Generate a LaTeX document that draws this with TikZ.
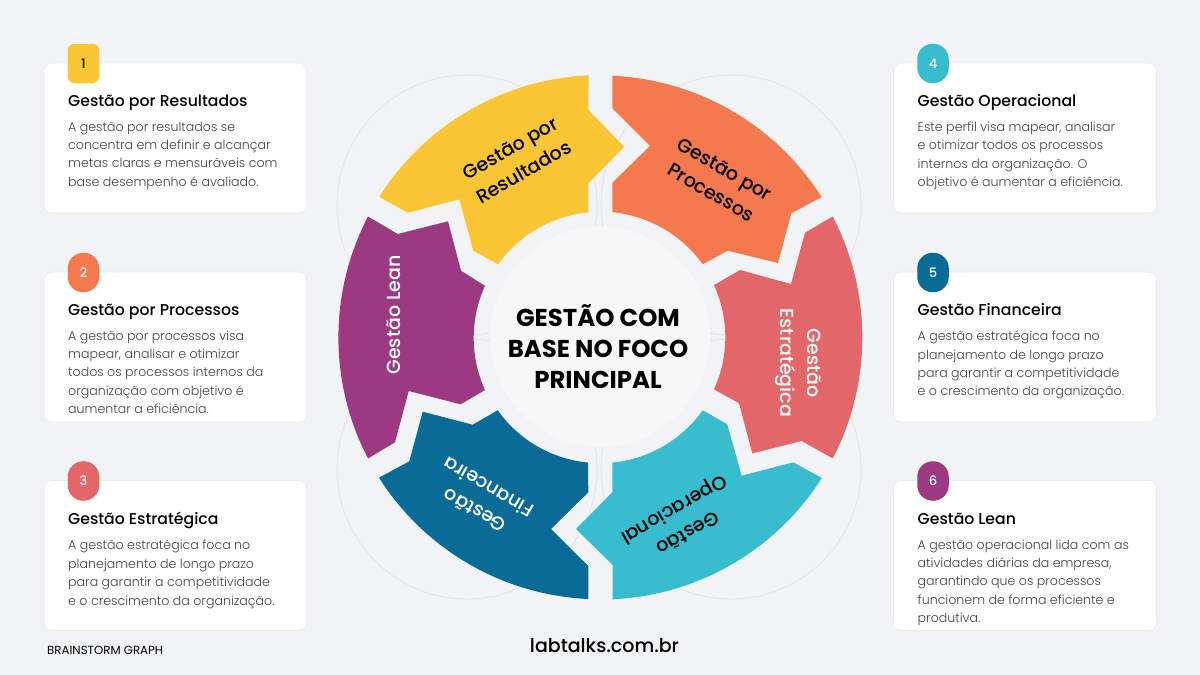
\documentclass[tikz,border=0pt]{standalone}
\usepackage{fontspec}
\usepackage{tikz}
\usetikzlibrary{positioning}
\setmainfont{Poppins}
\newfontfamily\lightfont{Poppins Light}
\newfontfamily\mediumfont{Poppins Medium}
\newfontfamily\boldfont{Poppins Bold}

\definecolor{bgcol}{HTML}{F2F3F5}
\definecolor{yellowcol}{HTML}{FAC636}
\definecolor{orangecol}{HTML}{F5794F}
\definecolor{redcol}{HTML}{E36668}
\definecolor{purplecol}{HTML}{9B3A80}
\definecolor{tealcol}{HTML}{38BDCF}
\definecolor{bluecol}{HTML}{0A6B96}
\definecolor{discol}{HTML}{F7F7F8}
\definecolor{bodycol}{HTML}{444444}

\begin{document}
\begin{tikzpicture}[
    x=1pt, y=-1pt,
    card/.style={draw=black!8, line width=0.6pt, fill=white, rounded corners=8pt, minimum width=263pt, minimum height=150pt, inner sep=0pt},
    badge/.style={fill=#1, rounded corners=15.5pt, minimum width=31.5pt, minimum height=39.5pt, inner sep=0pt, text=white, font=\mediumfont\fontsize{13}{13}\selectfont},
    card_title/.style={anchor=west, inner sep=0pt, text depth=0pt, font=\mediumfont\fontsize{15.7}{18}\selectfont},
    card_body/.style={anchor=north west, inner sep=0pt, align=left, text=bodycol, font=\lightfont\fontsize{12.6}{18.4}\selectfont},
    sector_label/.style={align=center, inner sep=0pt, font=\mediumfont\fontsize{19}{27}\selectfont},
    guide/.style={draw=black!12, line width=0.6pt}
]

\useasboundingbox (0,0) rectangle (1200,675);
\fill[bgcol] (0,0) rectangle (1200,675);

% Thin circles behind the wheel
\draw[guide] (467,205) circle[radius=130pt];
\draw[guide] (731,205) circle[radius=130pt];
\draw[guide] (467,469) circle[radius=130pt];
\draw[guide] (731,469) circle[radius=130pt];

% Wheel sectors
\fill[yellowcol] (379.3,196.7) arc[start angle=147.6, end angle=92.6, radius=262pt] -- (588.3,110) -- (624.3,146.7) -- (588.3,183.3) -- (588.3,212.3) arc[start angle=95.5, end angle=144.5, radius=125.6pt] -- (473.3,250.7) -- (459.3,199.3) -- (407.7,212.7) -- cycle;
\fill[orangecol] (612.3,75.7) arc[start angle=87.4, end angle=32.4, radius=262pt] -- (791.3,213.3) -- (778,263) -- (727.7,250.7) -- (702.7,264.3) arc[start angle=35.5, end angle=84.5, radius=125.6pt] -- (612.3,182.7) -- (650,146) -- (612.3,108.3) -- cycle;
\fill[purplecol] (368,216.5) arc[start angle=152.5, end angle=207.5, radius=262pt] -- (395,442.3) -- (408.7,391) -- (460.7,404.3) -- (485,390) arc[start angle=204.5, end angle=155.5, radius=125.6pt] -- (461,270.7) -- (448,221.3) -- (397.7,234) -- cycle;
\fill[redcol] (832.7,216.5) arc[start angle=27.5, end angle=-27.5, radius=262pt] -- (801.7,441) -- (752.3,453.3) -- (739,403.3) -- (714,389.3) arc[start angle=-24.5, end angle=24.5, radius=125.6pt] -- (740,270) -- (791,284) -- (805,232.7) -- cycle;
\fill[bluecol] (588.3,599) arc[start angle=267.4, end angle=212.4, radius=262pt] -- (409.3,461.3) -- (422.7,411.7) -- (472.7,424.7) -- (497.7,410.3) arc[start angle=215.4, end angle=264.5, radius=125.6pt] -- (588.3,492.3) -- (551,529) -- (588.3,566) -- cycle;
\fill[tealcol] (612.5,599.3) arc[start angle=272.6, end angle=327.6, radius=262pt] -- (793.3,462.3) -- (741.7,475.7) -- (727.3,424.3) -- (702.7,410.3) arc[start angle=324.6, end angle=275.5, radius=125.6pt] -- (612.3,492.3) -- (576,529) -- (612.7,565) -- cycle;

% Centre disc
\node[circle, fill=discol, minimum size=220pt, inner sep=0pt] (centre) at (600.3,337) {};
\node[align=center, inner sep=0pt, font=\boldfont\fontsize{24.4}{31}\selectfont] (centre_text) at (598,346.5) {GESTÃO COM\\BASE NO FOCO\\PRINCIPAL};

% Sector labels
\node[sector_label, rotate=30] (label1) at (517,160) {Gestão por\\Resultados};
\node[sector_label, rotate=-30] (label2) at (718,180.5) {Gestão por\\Processos};
\node[sector_label, rotate=-90, text=white] (label3) at (798,363) {Gestão\\Estratégica};
\node[sector_label, rotate=210] (label4) at (680,520) {Gestão\\Operacional};
\node[sector_label, rotate=150, text=white] (label5) at (481.5,499) {Gestão\\Financeira};
\node[sector_label, rotate=90, text=white] (label6) at (394,315) {Gestão Lean};

% Left cards
\node[card] (card1) at (175.5,138) {};
\node[card] (card2) at (175.5,347) {};
\node[card] (card3) at (175.5,555.5) {};

% Right cards
\node[card] (card4) at (1025,138) {};
\node[card] (card5) at (1025,347) {};
\node[card] (card6) at (1025,555.5) {};

% Badges
\node[badge=yellowcol, rounded corners=7pt, text=black] (badge1) at (83.5,63.5) {1};
\node[badge=orangecol] (badge2) at (83.5,272.5) {2};
\node[badge=redcol] (badge3) at (83.5,481) {3};
\node[badge=tealcol] (badge4) at (933,63.5) {4};
\node[badge=bluecol] (badge5) at (933,272.5) {5};
\node[badge=purplecol] (badge6) at (933,481) {6};

% Card texts
\node[card_title] (title1) at (68,100.5) {Gestão por Resultados};
\node[below=15pt of title1.south west, card_body] (body1) {A gestão por resultados se\\concentra em definir e alcançar\\metas claras e mensuráveis com\\base desempenho é avaliado.};
\node[card_title] (title2) at (68,309.5) {Gestão por Processos};
\node[below=15pt of title2.south west, card_body] (body2) {A gestão por processos visa\\mapear, analisar e otimizar\\todos os processos internos da\\organização com objetivo é\\aumentar a eficiência.};
\node[card_title] (title3) at (68,518.5) {Gestão Estratégica};
\node[below=15pt of title3.south west, card_body] (body3) {A gestão estratégica foca no\\planejamento de longo prazo\\para garantir a competitividade\\e o crescimento da organização.};
\node[card_title] (title4) at (917.5,100.5) {Gestão Operacional};
\node[below=15pt of title4.south west, card_body] (body4) {Este perfil visa mapear, analisar\\e otimizar todos os processos\\internos da organização. O\\objetivo é aumentar a eficiência.};
\node[card_title] (title5) at (917.5,309.5) {Gestão Financeira};
\node[below=15pt of title5.south west, card_body] (body5) {A gestão estratégica foca no\\planejamento de longo prazo\\para garantir a competitividade\\e o crescimento da organização.};
\node[card_title] (title6) at (917.5,518.5) {Gestão Lean};
\node[below=15pt of title6.south west, card_body] (body6) {A gestão operacional lida com as\\atividades diárias da empresa,\\garantindo que os processos\\funcionem de forma eficiente e\\produtiva.};

% Footer
\node[anchor=west, inner sep=0pt, font=\fontsize{11.8}{13}\selectfont] (brand) at (47,650) {BRAINSTORM GRAPH};
\node[inner sep=0pt, font=\mediumfont\fontsize{19}{21}\selectfont] (site) at (604.5,646) {labtalks.com.br};

\end{tikzpicture}
\end{document}
